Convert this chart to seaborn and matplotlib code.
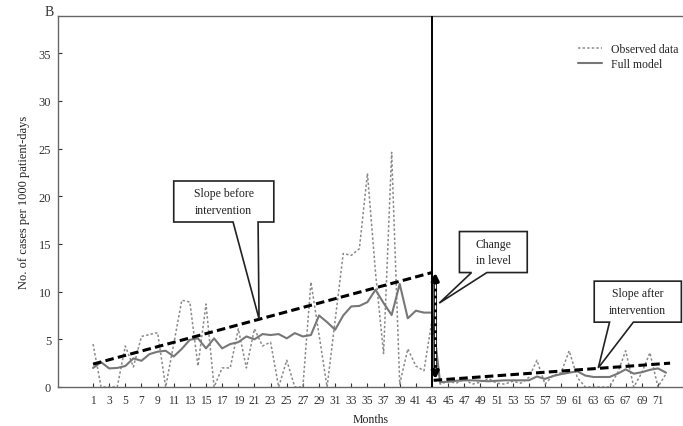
import numpy as np
import pandas as pd
import matplotlib
matplotlib.use("Agg")
import matplotlib.pyplot as plt
import seaborn as sns
from matplotlib.patches import Polygon

# --- Data ---
months = list(range(1, 73))

observed = [4.5, 0, 0, 0, 4.3, 2.1, 5.3, 5.5, 5.7, 0,
            4.5, 9.1, 8.9, 2.2, 8.7, 0, 2.0, 2.0, 6.1, 2.0,
            6.1, 4.3, 4.7, 0, 2.8, 0, 0, 11.0, 5.5, 0,
            7.0, 14.0, 13.8, 14.5, 22.4, 12.0, 3.5, 24.6, 0.3, 4.0,
            2.2, 1.7, 7.0, 0.3, 0.6, 0.4, 0.8, 0.3, 0.5, 0.9,
            0.4, 0.3, 0.6, 0.4, 1.0, 2.8, 0.3, 1.2, 1.5, 3.8,
            1.0, 0, 0, 0, 0, 1.5, 3.8, 0, 1.5, 3.6,
            0, 1.4]

full_model = [2.0, 2.6, 1.95, 2.0, 2.2, 3.0, 2.75, 3.45, 3.7, 3.8,
              3.2, 4.0, 4.95, 5.1, 4.05, 5.1, 4.05, 4.5, 4.7, 5.3,
              5.0, 5.55, 5.45, 5.55, 5.1, 5.65, 5.3, 5.45, 7.5, 6.8,
              6.0, 7.5, 8.45, 8.5, 8.9, 10.2, 8.8, 7.55, 10.8, 7.2,
              8.0, 7.8, 7.8, 0.5, 0.55, 0.65, 0.7, 0.7, 0.65, 0.6,
              0.65, 0.7, 0.7, 0.7, 0.7, 1.1, 0.85, 1.15, 1.35, 1.5,
              1.65, 1.2, 1.05, 1.05, 1.05, 1.4, 1.85, 1.4, 1.55, 1.8,
              1.95, 1.5]

intervention = 43
slope_before = ([1, 43], [2.4, 12.0])
slope_after = ([43.2, 72.5], [0.7, 2.5])
level_change = (43.4, 12.0, 0.8)

x_ticks = list(range(1, 72, 2))
y_ticks = list(range(0, 36, 5))

# callouts: box (x0, x1, y0, y1), tail base (xa, xb), tip (x, y), text
callouts = [
    ((11.0, 23.4, 17.3, 21.6), (18.35, 21.45), (21.57, 7.15), "Slope before\nintervention", 19.45),
    ((46.4, 54.8, 12.0, 16.3), (47.9, 49.8), (43.9, 8.8), "Change\nin level", 14.15),
    ((63.1, 73.9, 6.8, 11.1), (65.0, 67.95), (63.6, 2.0), "Slope after\nintervention", 8.95),
]

df = pd.DataFrame({"month": months, "observed": observed, "model": full_model})

sns.set_style("ticks")
plt.rcParams["font.family"] = ["Liberation Serif", "DejaVu Serif"]

fig = plt.figure(figsize=(6.83, 4.27), dpi=100)
ax = fig.add_axes([58 / 683, 39 / 427, 625 / 683, 371 / 427])

sns.lineplot(data=df, x="month", y="observed", ax=ax, color="#8a8a8a",
             linewidth=1.1, linestyle=(0, (1.6, 1.4)), label="Observed data")
sns.lineplot(data=df, x="month", y="model", ax=ax, color="#777777",
             linewidth=1.5, label="Full model")

# intervention line
ax.axvline(intervention, color="black", linewidth=1.4, zorder=4)

# segmented slopes
dash = (0, (2.8, 1.4))
ax.plot(*slope_before, color="black", linewidth=2.2, linestyle=dash, zorder=4)
ax.plot(*slope_after, color="black", linewidth=2.2, linestyle=dash, zorder=4)

# change in level arrow: black double arrow with white dashes inside
lx, ltop, lbot = level_change
ax.annotate("", xy=(lx, lbot), xytext=(lx, ltop),
            arrowprops=dict(arrowstyle="<|-|>", color="black", lw=2.6,
                            mutation_scale=10, shrinkA=0, shrinkB=0),
            zorder=5)
ax.plot([lx, lx], [ltop - 1.2, lbot + 1.2], color="white", linewidth=1.0,
        linestyle=(0, (3, 2)), zorder=6)

# callout boxes
for (x0, x1, y0, y1), (xa, xb), (tx, ty), text, ty_text in callouts:
    pts = [(x0, y1), (x1, y1), (x1, y0), (xb, y0), (tx, ty), (xa, y0), (x0, y0)]
    ax.add_patch(Polygon(pts, closed=True, facecolor="white", edgecolor="#222222",
                         linewidth=1.2, zorder=6))
    ax.text((x0 + x1) / 2, ty_text, text, ha="center", va="center",
            fontsize=8.5, linespacing=1.5, zorder=7, color="#222222")

ax.set_xlim(-3.34, 74.1)
ax.set_ylim(0, 38.9)
ax.set_xticks(x_ticks)
ax.set_yticks(y_ticks)
ax.tick_params(direction="in", length=3, labelsize=9, colors="#333333", pad=5)
ax.tick_params(axis="x", labelsize=8.3)
for side in ["left", "bottom", "top"]:
    ax.spines[side].set_color("#666666")
    ax.spines[side].set_linewidth(1.0)
ax.spines["right"].set_visible(False)

ax.set_xlabel("Months", fontsize=8.5, color="#222222", labelpad=5)
ax.set_ylabel("No. of cases per 1000 patient-days", fontsize=9,
              color="#222222", labelpad=6)

ax.legend(loc="upper left", bbox_to_anchor=(0.815, 0.955), frameon=False,
          fontsize=8.5, handlelength=2.0, handletextpad=0.8, labelspacing=0.2)

fig.text(45 / 683, 1 - 12 / 427, "B", fontsize=10, va="center", color="#333333")

fig.savefig("out.png", dpi=100)
